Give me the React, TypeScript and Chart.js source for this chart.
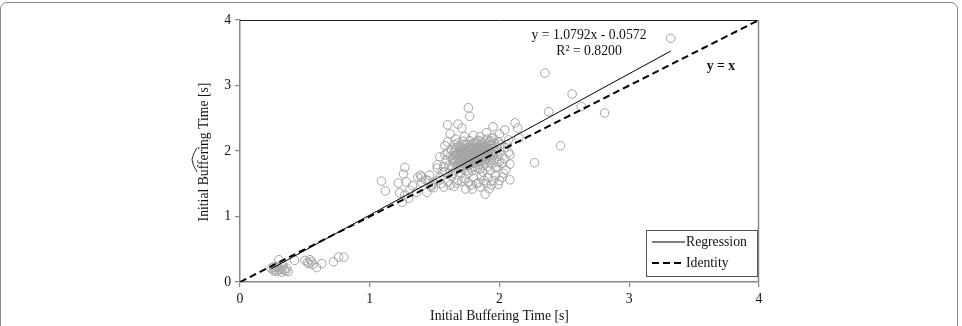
import React, { useEffect, useRef } from "react";
import { Chart, registerables } from "chart.js";

Chart.register(...registerables);

type Pt = [number, number];

// [measured initial buffering time, estimated initial buffering time] in seconds
const shortSessions: Pt[] = [
  [0.24, 0.21], [0.26, 0.17], [0.27, 0.19], [0.28, 0.16], [0.29, 0.22],
  [0.30, 0.18], [0.30, 0.34], [0.31, 0.20], [0.32, 0.15], [0.33, 0.23],
  [0.34, 0.19], [0.35, 0.17], [0.36, 0.21], [0.37, 0.16], [0.28, 0.24],
  [0.42, 0.33], [0.50, 0.33], [0.52, 0.30], [0.53, 0.28], [0.55, 0.31],
  [0.54, 0.34], [0.56, 0.27], [0.59, 0.22], [0.63, 0.28], [0.72, 0.31],
  [0.76, 0.38], [0.80, 0.38], [0.26, 0.23], [0.33, 0.27],
];

const risingEdge: Pt[] = [
  [1.09, 1.54], [1.12, 1.39], [1.22, 1.51], [1.23, 1.36], [1.25, 1.22],
  [1.26, 1.65], [1.27, 1.75], [1.28, 1.53], [1.27, 1.33], [1.30, 1.28],
  [1.31, 1.40], [1.33, 1.47], [1.36, 1.37], [1.37, 1.60], [1.39, 1.63],
  [1.40, 1.52], [1.43, 1.56], [1.44, 1.37], [1.46, 1.63], [1.47, 1.45],
  [1.49, 1.51], [1.49, 1.44], [1.52, 1.74], [1.52, 1.79], [1.54, 1.60],
  [1.54, 1.91], [1.55, 1.50], [1.56, 1.68], [1.58, 1.68], [1.58, 2.08],
  [1.60, 2.14], [1.60, 1.53], [1.60, 2.40], [1.61, 1.78], [1.62, 1.48],
  [1.63, 1.62], [1.64, 1.85],
];

const denseCore: Pt[] = [
  [1.62, 1.92], [1.63, 2.02], [1.64, 1.75], [1.65, 1.98], [1.65, 2.10],
  [1.66, 1.85], [1.66, 1.70], [1.67, 1.95], [1.67, 2.05], [1.68, 1.80],
  [1.68, 1.90], [1.68, 2.12], [1.69, 1.76], [1.69, 2.00], [1.70, 1.86],
  [1.70, 1.94], [1.70, 2.08], [1.71, 1.82], [1.71, 1.98], [1.72, 1.72],
  [1.72, 1.90], [1.72, 2.04], [1.72, 2.15], [1.73, 1.84], [1.73, 1.96],
  [1.74, 1.78], [1.74, 1.88], [1.74, 2.02], [1.75, 1.92], [1.75, 2.10],
  [1.75, 1.70], [1.76, 1.84], [1.76, 1.98], [1.76, 2.06], [1.77, 1.80],
  [1.77, 1.90], [1.77, 2.16], [1.78, 1.86], [1.78, 1.96], [1.78, 2.02],
  [1.78, 1.74], [1.79, 1.92], [1.79, 2.08], [1.80, 1.82], [1.80, 1.88],
  [1.80, 1.98], [1.80, 2.12], [1.81, 1.94], [1.81, 2.04], [1.81, 1.76],
  [1.82, 1.86], [1.82, 1.90], [1.82, 2.00], [1.82, 2.10], [1.83, 1.84],
  [1.83, 1.96], [1.83, 2.06], [1.84, 1.80], [1.84, 1.92], [1.84, 2.02],
  [1.84, 2.16], [1.85, 1.88], [1.85, 1.98], [1.85, 2.08], [1.85, 1.72],
  [1.86, 1.84], [1.86, 1.94], [1.86, 2.04], [1.87, 1.90], [1.87, 2.00],
  [1.87, 2.12], [1.87, 1.78], [1.88, 1.86], [1.88, 1.96], [1.88, 2.06],
  [1.89, 1.92], [1.89, 2.02], [1.89, 1.82], [1.90, 1.88], [1.90, 1.98],
  [1.90, 2.10], [1.90, 2.18], [1.91, 1.94], [1.91, 2.04], [1.91, 1.76],
  [1.92, 1.86], [1.92, 2.00], [1.92, 2.14], [1.93, 1.90], [1.93, 2.08],
  [1.94, 1.80], [1.94, 1.96], [1.94, 2.20], [1.95, 2.04], [1.96, 1.88],
  [1.96, 2.12], [1.97, 1.98], [1.97, 1.74], [1.98, 2.06], [1.99, 1.92],
  [2.00, 2.00], [2.00, 1.84], [2.01, 2.10], [1.70, 1.74], [1.64, 1.88],
  [1.66, 2.04], [1.73, 2.10], [1.79, 1.70], [1.83, 1.74], [1.76, 1.66],
  [1.70, 1.66], [1.64, 1.66], [1.62, 1.72], [1.60, 1.98], [1.59, 1.86],
  [1.57, 1.76], [1.58, 1.94],
];

const coreOverlap: Pt[] = [
  [1.66, 1.93], [1.67, 1.88], [1.69, 1.84], [1.69, 2.06], [1.71, 1.90],
  [1.71, 2.02], [1.73, 1.92], [1.73, 1.80], [1.74, 1.96], [1.75, 1.86],
  [1.75, 2.00], [1.76, 1.92], [1.77, 1.84], [1.77, 2.04], [1.78, 1.92],
  [1.79, 1.88], [1.79, 1.98], [1.80, 1.94], [1.80, 2.04], [1.81, 1.86],
  [1.81, 1.98], [1.82, 1.94], [1.83, 1.88], [1.83, 2.00], [1.84, 1.86],
  [1.84, 1.96], [1.85, 1.92], [1.85, 2.02], [1.86, 1.88], [1.86, 1.98],
  [1.87, 1.94], [1.87, 2.06], [1.88, 1.90], [1.88, 2.00], [1.89, 1.96],
  [1.89, 2.08], [1.90, 1.92], [1.90, 2.02], [1.91, 1.98], [1.92, 1.94],
  [1.93, 2.02], [1.94, 2.10], [1.72, 1.86], [1.76, 1.78], [1.78, 2.10],
  [1.82, 2.14], [1.86, 2.14], [1.93, 2.16], [1.68, 1.96], [1.70, 2.00],
];

const lowerFringe: Pt[] = [
  [1.40, 1.60], [1.45, 1.55], [1.48, 1.48], [1.52, 1.55], [1.57, 1.45],
  [1.65, 1.46], [1.68, 1.55], [1.74, 1.42], [1.79, 1.42], [1.84, 1.52],
  [1.90, 1.50], [1.95, 1.55], [1.99, 1.49], [2.02, 1.60], [1.87, 1.68],
  [1.93, 1.70], [1.98, 1.76], [2.04, 1.88], [1.67, 1.51], [1.71, 1.54],
  [1.73, 1.58], [1.76, 1.52], [1.78, 1.48], [1.82, 1.50], [1.85, 1.45],
  [1.88, 1.55], [1.91, 1.60], [1.86, 1.62], [1.80, 1.58], [2.00, 1.55],
  [1.92, 1.42], [1.89, 1.34], [1.94, 1.48], [1.97, 1.63], [2.03, 1.66],
  [2.05, 1.71], [2.08, 1.56], [2.08, 1.80], [2.02, 1.81], [1.98, 1.83],
];

const upperFringe: Pt[] = [
  [1.68, 2.41], [1.71, 2.35], [1.76, 2.66], [1.77, 2.53], [1.80, 2.24],
  [1.95, 2.37], [2.04, 2.32], [2.12, 2.43], [2.14, 2.35], [1.95, 2.20],
  [1.99, 2.14], [2.07, 2.17], [2.04, 2.05], [2.07, 1.98], [2.08, 1.94],
  [1.95, 1.94], [2.06, 2.10], [2.00, 2.26], [1.90, 2.28], [1.85, 2.22],
  [1.73, 2.22], [1.66, 2.18], [1.62, 2.26], [2.15, 2.20],
];

const farPoints: Pt[] = [
  [2.27, 1.82], [2.47, 2.08], [2.38, 2.60], [2.56, 2.87], [2.63, 2.68],
  [2.81, 2.58], [2.35, 3.19], [3.32, 3.72],
];

const axisTicks = [0, 1, 2, 3, 4];
const slope = 1.0792;
const intercept = -0.0572;
const rSquared = 0.82;
const legendLabels = ["Regression", "Identity"];
const xTitle = "Initial Buffering Time [s]";
const yTitleParts = ["Initial ", "Buffering", " Time [s]"];

const FONT = "'Liberation Serif', 'Times New Roman', serif";
const FONT_SIZE = 13.7;
const TEXT = "#111";
const POINT_GREY = "#a3a3a3";
const AXIS_GREY = "#878787";
const DASH = [7, 4];

const allPoints = [
  ...shortSessions,
  ...risingEdge,
  ...denseCore,
  ...coreOverlap,
  ...lowerFringe,
  ...upperFringe,
  ...farPoints,
].map(([x, y]) => ({ x, y }));

const xMin = Math.min(...allPoints.map((p) => p.x));
const xMax = Math.max(...allPoints.map((p) => p.x));
const regressionLine = [xMin, xMax].map((x) => ({ x, y: slope * x + intercept }));
const identityLine = [axisTicks[0], axisTicks[axisTicks.length - 1]].map((v) => ({ x: v, y: v }));

// top and right edges of the plotting box
const framePlugin = {
  id: "frame",
  beforeDatasetsDraw(chart: any) {
    const { ctx, chartArea: a } = chart;
    ctx.save();
    ctx.lineWidth = 1;
    ctx.strokeStyle = "#222";
    ctx.beginPath();
    ctx.moveTo(a.left, a.top + 0.5);
    ctx.lineTo(a.right, a.top + 0.5);
    ctx.stroke();
    ctx.strokeStyle = AXIS_GREY;
    ctx.lineWidth = 1.5;
    ctx.beginPath();
    ctx.moveTo(a.right - 0.5, a.top);
    ctx.lineTo(a.right - 0.5, a.bottom);
    ctx.stroke();
    ctx.restore();
  },
};

// regression equation and identity label
const notesPlugin = {
  id: "notes",
  afterDatasetsDraw(chart: any) {
    const { ctx } = chart;
    const xs = chart.scales.x;
    const ys = chart.scales.y;
    ctx.save();
    ctx.fillStyle = TEXT;
    ctx.textAlign = "center";
    ctx.textBaseline = "middle";
    ctx.font = `${FONT_SIZE}px ${FONT}`;
    const cx = xs.getPixelForValue(2.69);
    ctx.fillText(
      `y = ${slope.toFixed(4)}x - ${Math.abs(intercept).toFixed(4)}`,
      cx,
      ys.getPixelForValue(3.76)
    );
    ctx.fillText(`R\u00B2 = ${rSquared.toFixed(4)}`, cx, ys.getPixelForValue(3.52));
    ctx.font = `bold ${FONT_SIZE}px ${FONT}`;
    ctx.fillText("y = x", xs.getPixelForValue(3.707), ys.getPixelForValue(3.287));
    ctx.restore();
  },
};

// boxed legend in the lower right corner of the plot
const legendBoxPlugin = {
  id: "legendBox",
  afterDatasetsDraw(chart: any) {
    const { ctx, chartArea: a } = chart;
    const bw = 111;
    const bh = 46;
    const bx = a.right - 113;
    const by = a.bottom - 52;
    ctx.save();
    ctx.fillStyle = "#fff";
    ctx.fillRect(bx, by, bw, bh);
    ctx.strokeStyle = "#555";
    ctx.lineWidth = 1;
    ctx.strokeRect(bx + 0.5, by + 0.5, bw, bh);
    legendLabels.forEach((label, i) => {
      const ds = chart.data.datasets[i];
      const ly = by + 12 + i * 21;
      ctx.strokeStyle = ds.borderColor;
      ctx.lineWidth = ds.borderWidth;
      ctx.setLineDash(ds.borderDash || []);
      ctx.beginPath();
      ctx.moveTo(bx + 6, ly);
      ctx.lineTo(bx + 39, ly);
      ctx.stroke();
      ctx.setLineDash([]);
      ctx.fillStyle = TEXT;
      ctx.font = `${FONT_SIZE}px ${FONT}`;
      ctx.textAlign = "left";
      ctx.textBaseline = "middle";
      ctx.fillText(label, bx + 40, ly + 0.5);
    });
    ctx.restore();
  },
};

// rotated y-axis title with a wide hat over the estimated quantity
const yTitlePlugin = {
  id: "yTitle",
  afterDraw(chart: any) {
    const { ctx, chartArea: a } = chart;
    const tx = 204;
    const ty = (a.top + a.bottom) / 2 + 1;
    ctx.save();
    ctx.translate(tx, ty);
    ctx.rotate(-Math.PI / 2);
    ctx.font = `${FONT_SIZE}px ${FONT}`;
    ctx.fillStyle = TEXT;
    ctx.textBaseline = "middle";
    ctx.textAlign = "left";
    const full = yTitleParts.join("");
    const total = ctx.measureText(full).width;
    const w0 = ctx.measureText(yTitleParts[0]).width;
    const w1 = ctx.measureText(yTitleParts[1]).width;
    const start = -total / 2;
    ctx.fillText(full, start, 0);
    const hatMid = start + w0 + w1 / 2 - 1;
    const hatHalf = 12;
    ctx.strokeStyle = TEXT;
    ctx.lineWidth = 0.9;
    ctx.beginPath();
    ctx.moveTo(hatMid - hatHalf, -7);
    ctx.quadraticCurveTo(hatMid - hatHalf * 0.45, -11.5, hatMid, -12);
    ctx.quadraticCurveTo(hatMid + hatHalf * 0.45, -11.5, hatMid + hatHalf, -7);
    ctx.stroke();
    ctx.restore();
  },
};

function axisOptions(fitKey: "width" | "height", fitSize: number) {
  return {
    type: "linear" as const,
    min: axisTicks[0],
    max: axisTicks[axisTicks.length - 1],
    afterBuildTicks: (scale: any) => {
      scale.ticks = axisTicks.map((v) => ({ value: v }));
    },
    afterFit: (scale: any) => {
      scale[fitKey] = fitSize;
    },
    grid: {
      display: true,
      drawOnChartArea: false,
      drawTicks: true,
      tickLength: 5,
      color: AXIS_GREY,
      lineWidth: 1.2,
    },
    border: { display: true, color: AXIS_GREY, width: 1.5 },
    ticks: {
      font: { family: FONT, size: FONT_SIZE },
      color: TEXT,
      padding: 4,
      maxRotation: 0,
    },
  };
}

export default function App() {
  const canvasRef = useRef<HTMLCanvasElement | null>(null);

  useEffect(() => {
    const canvas = canvasRef.current;
    if (!canvas) return;
    const chart = new Chart(canvas, {
      type: "scatter",
      data: {
        datasets: [
          {
            type: "line",
            label: legendLabels[0],
            data: regressionLine,
            borderColor: "#000",
            borderWidth: 1,
            pointRadius: 0,
            fill: false,
          },
          {
            type: "line",
            label: legendLabels[1],
            data: identityLine,
            borderColor: "#000",
            borderWidth: 2,
            borderDash: DASH,
            pointRadius: 0,
            fill: false,
          },
          {
            label: "Sessions",
            data: allPoints,
            pointRadius: 4.3,
            pointBorderWidth: 1,
            pointBorderColor: POINT_GREY,
            pointBackgroundColor: "rgba(0,0,0,0)",
            borderColor: POINT_GREY,
            backgroundColor: "rgba(0,0,0,0)",
          },
        ],
      },
      options: {
        animation: false,
        responsive: false,
        devicePixelRatio: 1,
        layout: { padding: { left: 200, right: 203, top: 20, bottom: 0 } },
        plugins: {
          legend: { display: false },
          tooltip: { enabled: false },
          title: { display: false },
        },
        scales: {
          x: {
            ...axisOptions("height", 44),
            title: {
              display: true,
              text: xTitle,
              font: { family: FONT, size: FONT_SIZE },
              color: TEXT,
              padding: { top: 0, bottom: 1 },
            },
          },
          y: {
            ...axisOptions("width", 40),
            title: { display: false },
          },
        },
      },
      plugins: [framePlugin, notesPlugin, legendBoxPlugin, yTitlePlugin],
    });
    return () => chart.destroy();
  }, []);

  return (
    <div
      style={{
        position: "fixed",
        left: 0,
        top: 0,
        width: 962,
        height: 326,
        overflow: "hidden",
        background: "#fff",
      }}
    >
      <div
        style={{
          position: "absolute",
          left: 0,
          top: 2,
          width: 956,
          height: 360,
          border: "1px solid #8a8a8a",
          borderRadius: 7,
        }}
      />
      <canvas
        ref={canvasRef}
        width={962}
        height={326}
        style={{ position: "absolute", left: 0, top: 0, width: 962, height: 326 }}
      />
    </div>
  );
}
